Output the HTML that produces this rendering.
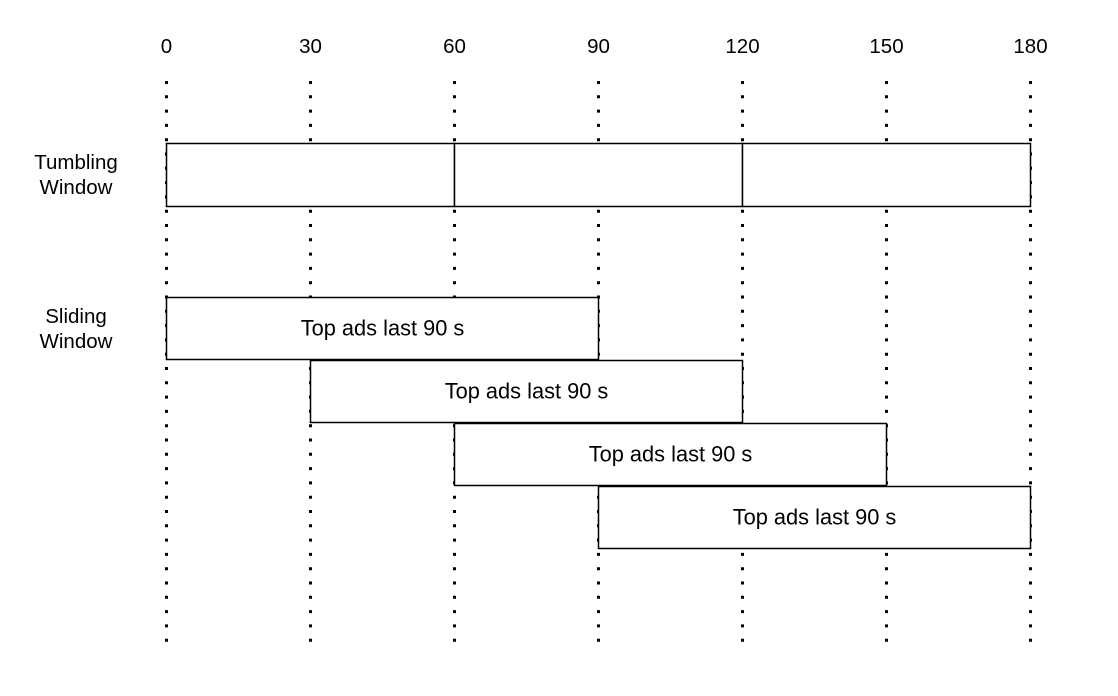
<!DOCTYPE html>
<html><head><meta charset="utf-8"><style>
html,body{margin:0;padding:0;background:#fff;}
svg{display:block;font-family:"Liberation Sans",Arial,sans-serif;}
</style></head><body>
<svg id="chart" width="1118" height="696" viewBox="0 0 1118 696"></svg>
<script>
const ticks = [0, 30, 60, 90, 120, 150, 180];
const tumblingStarts = [0, 60, 120];
const tumblingEnds = [60, 120, 180];
const slidingStarts = [0, 30, 60, 90];
const slidingEnds = [90, 120, 150, 180];
const slidingLabels = ["Top ads last 90 s","Top ads last 90 s","Top ads last 90 s","Top ads last 90 s"];

const svg = document.getElementById('chart');
const NS = 'http://www.w3.org/2000/svg';
const x = v => 166.5 + v * (1030.5 - 166.5) / 180;
const FS = 20.5;
function mk(tag, attrs, parent){ const e=document.createElementNS(NS,tag); for(const k in attrs) e.setAttribute(k,attrs[k]); (parent||svg).appendChild(e); return e; }

ticks.forEach((t,i)=>{
  const l = mk('line',{x1:x(t),x2:x(t),y1:81,y2:650,stroke:'#000','stroke-width':3,'stroke-dasharray':'3 11.3'});
  
  
  const tx = mk('text',{x:x(t),y:53,'text-anchor':'middle','font-size':FS,fill:'#000'});
  tx.textContent = t;
  
  
});

tumblingStarts.forEach((s,i)=>{
  const r = mk('rect',{x:x(s),y:143.5,width:x(tumblingEnds[i])-x(s),height:63,fill:'#fff',stroke:'#000','stroke-width':1.5});
  
  
});

const rowY = [297.5, 360.5, 423.5, 486.5];
slidingStarts.forEach((s,i)=>{
  const g = mk('g',{});
  
  
  mk('rect',{x:x(s),y:rowY[i],width:x(slidingEnds[i])-x(s),height:62,fill:'#fff',stroke:'#000','stroke-width':1.5},g);
  const t = mk('text',{x:(x(s)+x(slidingEnds[i]))/2,y:rowY[i]+38,'text-anchor':'middle','font-size':21.8,fill:'#000'},g);
  t.textContent = slidingLabels[i];
});

function label(lines, y0, name){
  const t = mk('text',{'text-anchor':'middle','font-size':FS,fill:'#000'});
  
  
  lines.forEach((s,i)=>{ const ts=mk('tspan',{x:76,y:y0+i*25},t); ts.textContent=s; });
}
label(['Tumbling','Window'],169,'tumbling-window-label');
label(['Sliding','Window'],323,'sliding-window-label');
</script>
</body></html>
